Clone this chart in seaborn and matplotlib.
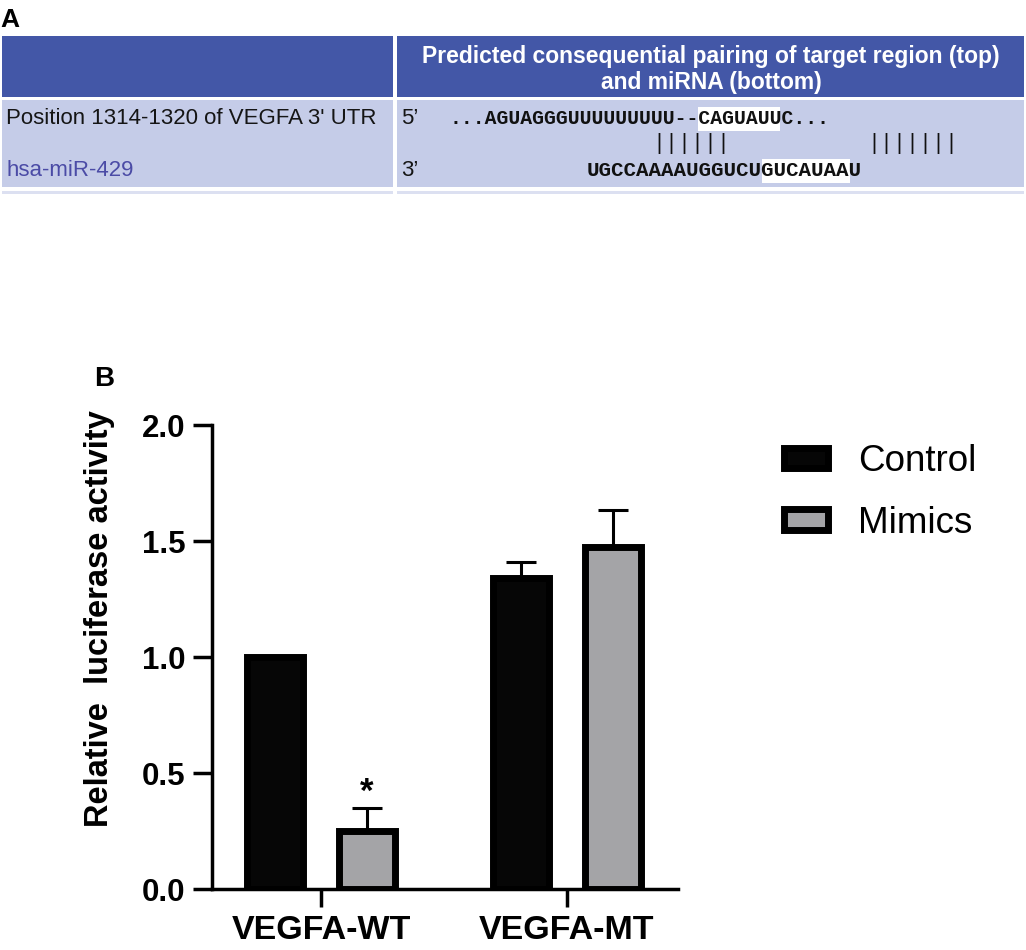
import pandas as pd
import matplotlib.pyplot as plt
import seaborn as sns
from matplotlib.patches import Rectangle

# panel B values
groups = ["VEGFA-WT", "VEGFA-MT"]
conditions = ["Control", "Mimics"]
control_mean = [1.0, 1.34]
control_err = [0.0, 0.07]
mimics_mean = [0.25, 1.475]
mimics_err = [0.10, 0.16]
star_marks = {("VEGFA-WT", "Mimics"): "*"}

# panel A text
row_labels = ["Position 1314-1320 of VEGFA 3' UTR", "hsa-miR-429"]
header_lines = ["Predicted consequential pairing of target region (top)", "and miRNA (bottom)"]
utr_seq = "...AGUAGGGUUUUUUUUU--CAGUAUUC..."
mir_seq = "UGCCAAAAUGGUCUGUCAUAAU"
utr_site = (21, 7)   # start index, length of highlighted site
mir_seed = (14, 7)

sns.set_theme(style="ticks")
plt.rcParams["font.family"] = ["Liberation Sans", "DejaVu Sans"]
plt.rcParams.update({"text.color": "black", "axes.labelcolor": "black",
                     "xtick.color": "black", "ytick.color": "black"})

fig = plt.figure(figsize=(10.26, 9.5), dpi=100)

# ---------- panel A: pairing table, drawn in pixel space ----------
ax0 = fig.add_axes([0, 0, 1, 1])
ax0.set_xlim(0, 1026)
ax0.set_ylim(950, 0)
ax0.axis("off")

head_col = "#4357A7"
row_col = "#C5CCE8"
for x, w in [(2, 391), (397, 627)]:
    ax0.add_patch(Rectangle((x, 36), w, 61, color=head_col, lw=0))
    ax0.add_patch(Rectangle((x, 100), w, 87, color=row_col, lw=0))
    ax0.add_patch(Rectangle((x, 191), w, 3, color="#DCE0F1", lw=0))

ax0.text(0, 8, "A", fontsize=19, fontweight="bold", ha="left", va="top")
ax0.text(94, 366, "B", fontsize=20, fontweight="bold", ha="left", va="top")

ax0.text(6, 118, row_labels[0], fontsize=16, color="#151515", va="center")
ax0.text(6, 170, row_labels[1], fontsize=16, color="#4B4BA6", va="center")
ax0.text(711, 57, header_lines[0], fontsize=16.5, fontweight="bold", color="white",
         ha="center", va="center")
ax0.text(711, 82, header_lines[1], fontsize=16.5, fontweight="bold", color="white",
         ha="center", va="center")
ax0.text(401, 118, "5\u2019", fontsize=16, color="#151515", va="center")
ax0.text(401, 171, "3\u2019", fontsize=16, color="#151515", va="center")


def seq_row(seq, x0, y, size, hl):
    adv = size * 100 / 72 * 0.6
    i, n = hl
    ax0.add_patch(Rectangle((x0 + i * adv, y - 12), n * adv, 24, color="white", lw=0))
    ax0.text(x0, y, seq, fontsize=size, family="Liberation Mono", fontweight="bold",
             color="#111111", va="center", ha="left")


seq_row(utr_seq, 449, 119, 14.2, utr_site)
seq_row(mir_seq, 587, 171, 15, mir_seed)
ax0.text(652, 143, "||||||", fontsize=15.6, family="Liberation Mono", color="#111111",
         va="center", ha="left")
ax0.text(867, 143, "|||||||", fontsize=15.6, family="Liberation Mono", color="#111111",
         va="center", ha="left")

# ---------- panel B: luciferase bars ----------
df = pd.DataFrame({
    "group": groups * 2,
    "condition": [conditions[0]] * 2 + [conditions[1]] * 2,
    "value": control_mean + mimics_mean,
    "err": control_err + mimics_err,
})

ax = fig.add_axes([0.2066, 0.0642, 0.4542, 0.4884])
sns.barplot(data=df, x="group", y="value", hue="condition", order=groups,
            hue_order=conditions, palette={"Control": "#060606", "Mimics": "#A3A3A8"},
            width=0.75, gap=0.40, edgecolor="black", linewidth=5, errorbar=None,
            ax=ax, zorder=3)

for cont, cond in zip(ax.containers, conditions):
    sub = df[df["condition"] == cond].set_index("group").loc[groups]
    xs = [p.get_x() + p.get_width() / 2 for p in cont.patches]
    ys = sub["value"].values
    errs = sub["err"].values
    keep = errs > 0
    ax.errorbar([x for x, k in zip(xs, keep) if k], ys[keep],
                yerr=[[0] * keep.sum(), errs[keep]], fmt="none", ecolor="black",
                elinewidth=2.2, capsize=11, capthick=2.2, zorder=2)
    for x, g, v, e in zip(xs, groups, ys, errs):
        mark = star_marks.get((g, cond))
        if mark:
            ax.annotate(mark, xy=(x, v + e), xytext=(0, -1), textcoords="offset points",
                        ha="center", va="bottom", fontsize=25, fontweight="bold")

ax.set_ylim(0, 2.0)
ax.set_xlim(-0.443, 1.451)
ax.set_yticks([0, 0.5, 1.0, 1.5, 2.0])
ax.set_yticklabels(["0.0", "0.5", "1.0", "1.5", "2.0"])
ax.set_xlabel("")
ax.set_ylabel("Relative  luciferase activity", fontsize=23.5, fontweight="bold")
ax.yaxis.set_label_coords(-0.208, 0.582)
for lab in ax.get_yticklabels():
    lab.set_fontweight("bold")
for lab in ax.get_xticklabels():
    lab.set_fontweight("bold")
ax.tick_params(axis="y", labelsize=22.5, width=2.5, length=13.5, pad=5.5, color="black")
ax.tick_params(axis="x", labelsize=24.5, width=2.5, length=13, pad=6, color="black")
ax.set_facecolor("none")
sns.despine(ax=ax)
for s in ["left", "bottom"]:
    ax.spines[s].set_linewidth(2.5)
    ax.spines[s].set_color("black")

handles, labels = ax.get_legend_handles_labels()
for h in handles:
    h.set_edgecolor("black")
    h.set_linewidth(5)
ax.legend(handles, labels, loc="upper left", bbox_to_anchor=(0.7646, 0.5326),
          bbox_transform=fig.transFigure, frameon=False, fontsize=26.5,
          handlelength=1.17, handleheight=0.49, handletextpad=0.83,
          labelspacing=0.72, borderpad=0, borderaxespad=0)

fig.savefig("out.png", dpi=100)
